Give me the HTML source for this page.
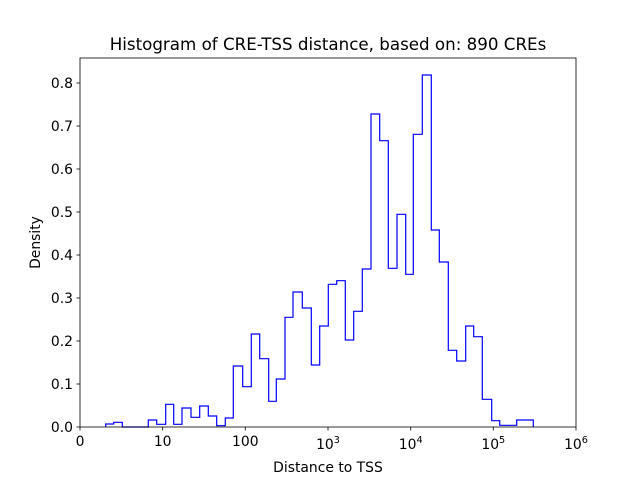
<!DOCTYPE html>
<html><head><meta charset="utf-8"><style>
html,body{margin:0;padding:0;background:#fff;}
svg{display:block;font-family:"DejaVu Sans","Liberation Sans",sans-serif;}
</style></head><body>
<svg width="640" height="480" viewBox="0 0 640 480" xmlns="http://www.w3.org/2000/svg">
<rect width="640" height="480" fill="#fff"/>
<path fill="none" stroke="#0000ff" stroke-width="1.2" stroke-linejoin="miter" d="M105.7,427 V424 H113.7 V422.3 H122.3 V427 H148.3 V420 H156.7 V424.3 H165.7 V404.3 H173.7 V424.3 H182 V408 H191 V417.3 H199.7 V406 H208.3 V416 H216.7 V425.7 H225.3 V418 H233.3 V366 H242.7 V386.7 H251.3 V334 H259.7 V358.7 H268.7 V401.3 H276.3 V379 H285 V317.3 H293 V292 H302.3 V308 H311.3 V365 H319.7 V326 H328.3 V284.3 H336.7 V280.7 H345.3 V340 H353.7 V311.3 H362.3 V269 H371 V114 H379.7 V140.7 H388.3 V268.3 H397 V214.3 H405.7 V274.3 H413.3 V134.3 H422.3 V75 H431.3 V230 H439.3 V262 H448.3 V350.3 H456.7 V361 H465.7 V326 H473.7 V336.7 H482.3 V399.3 H491.7 V420.7 H499.7 V425.3 H516.7 V420 H533.3 V427"/>
<rect x="80" y="58" width="496" height="369" fill="none" stroke="#000" stroke-width="0.8"/>
<g stroke="#000" stroke-width="0.8">
<line x1="80" y1="427" x2="80" y2="430.5"/><line x1="162.7" y1="427" x2="162.7" y2="430.5"/><line x1="245.3" y1="427" x2="245.3" y2="430.5"/><line x1="328" y1="427" x2="328" y2="430.5"/><line x1="410.7" y1="427" x2="410.7" y2="430.5"/><line x1="493.3" y1="427" x2="493.3" y2="430.5"/><line x1="576" y1="427" x2="576" y2="430.5"/>
<line x1="76.5" y1="427" x2="80" y2="427"/><line x1="76.5" y1="384" x2="80" y2="384"/><line x1="76.5" y1="341" x2="80" y2="341"/><line x1="76.5" y1="298" x2="80" y2="298"/><line x1="76.5" y1="255" x2="80" y2="255"/><line x1="76.5" y1="212" x2="80" y2="212"/><line x1="76.5" y1="169" x2="80" y2="169"/><line x1="76.5" y1="126" x2="80" y2="126"/><line x1="76.5" y1="83" x2="80" y2="83"/>
</g>
<g font-size="13.9" fill="#000" text-anchor="end">
<text x="73" y="432">0.0</text><text x="73" y="389">0.1</text><text x="73" y="346">0.2</text><text x="73" y="303">0.3</text><text x="73" y="260">0.4</text><text x="73" y="217">0.5</text><text x="73" y="174">0.6</text><text x="73" y="131">0.7</text><text x="73" y="88">0.8</text>
</g>
<g font-size="13.9" fill="#000" text-anchor="middle">
<text x="80" y="446">0</text><text x="162.7" y="446">10</text><text x="245.3" y="446">100</text>
<text x="328" y="449">10<tspan font-size="9.7" dy="-6">3</tspan></text>
<text x="410.7" y="449">10<tspan font-size="9.7" dy="-6">4</tspan></text>
<text x="493.3" y="449">10<tspan font-size="9.7" dy="-6">5</tspan></text>
<text x="576" y="449">10<tspan font-size="9.7" dy="-6">6</tspan></text>
<text x="328" y="472">Distance to TSS</text>
<text x="40" y="242.5" transform="rotate(-90 40 242.5)">Density</text>
<text x="328" y="50" font-size="16.7">Histogram of CRE-TSS distance, based on: 890 CREs</text>
</g>
</svg>
</body></html>
